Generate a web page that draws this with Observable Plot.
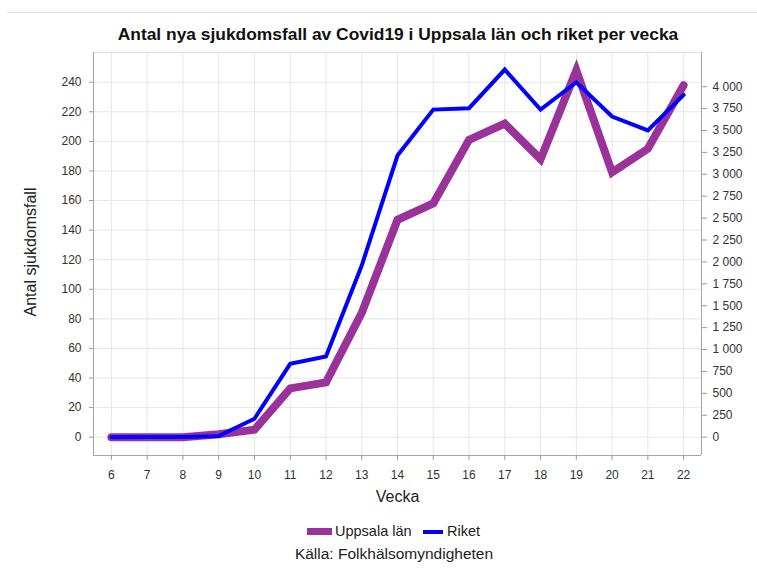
<!DOCTYPE html>
<html>
<head>
<meta charset="utf-8">
<script src="https://cdn.jsdelivr.net/npm/d3@7"></script>
<script src="https://cdn.jsdelivr.net/npm/@observablehq/plot@0.6"></script>
<style>
  html, body { margin: 0; padding: 0; background: #fff; }
  #wrap { position: relative; width: 757px; height: 572px; font-family: "Liberation Sans", Arial, sans-serif; color: #222; overflow: hidden; }
  #topline { position: absolute; left: 7px; right: 0; top: 12px; height: 1px; background: #e2e2e2; }
  #title { position: absolute; left: 0; width: 796px; top: 24px; text-align: center; font-weight: bold; font-size: 17.4px; line-height: 20px; color: #111; }
  #chart { position: absolute; left: 0; top: 0; }
  #legend { position: absolute; left: 0; width: 757px; top: 522px; height: 18px; font-size: 14.5px; line-height: 18px; }
  .sw { position: absolute; }
  .lt { position: absolute; top: 0; }
  #caption { position: absolute; left: 0; width: 788px; top: 545px; text-align: center; font-size: 15.5px; line-height: 18px; }
</style>
</head>
<body>
<div id="wrap">
  <div id="topline"></div>
  <div id="title">Antal nya sjukdomsfall av Covid19 i Uppsala län och riket per vecka</div>
  <div id="chart"></div>
  <div id="legend">
    <div class="sw" style="left:307px; top:6px; width:25px; height:7px; background:#993399;"></div>
    <div class="lt" style="left:335px;">Uppsala län</div>
    <div class="sw" style="left:423px; top:8px; width:20px; height:4px; background:#0000ff;"></div>
    <div class="lt" style="left:447px;">Riket</div>
  </div>
  <div id="caption">Källa: Folkhälsomyndigheten</div>
</div>
<script>
// Data
const weeks   = [6, 7, 8, 9, 10, 11, 12, 13, 14, 15, 16, 17, 18, 19, 20, 21, 22];
const uppsala = [0, 0, 0, 2, 5, 33, 37, 84, 147, 158, 201, 212, 188, 248, 179, 195, 238];
const riket   = [0, 1, 1, 13, 210, 837, 920, 1959, 3214, 3738, 3754, 4195, 3738, 4050, 3659, 3500, 3906];
const leftTicks  = [0, 20, 40, 60, 80, 100, 120, 140, 160, 180, 200, 220, 240];
const rightTicks = [0, 250, 500, 750, 1000, 1250, 1500, 1750, 2000, 2250, 2500, 2750, 3000, 3250, 3500, 3750, 4000];

const k = 237 / 4000; // right-axis value -> left-axis units
const yDomain = [-12.4, 260.1];
const xDomain = [5.5, 22.5];

const sv = d3.formatLocale({decimal: ",", thousands: " ", grouping: [3], currency: ["", " kr"]});
const fmt = sv.format(",d");

const dataU = weeks.map((w, i) => ({week: w, value: uppsala[i]}));
const dataR = weeks.map((w, i) => ({week: w, value: riket[i] * k}));

const plot = Plot.plot({
  width: 757,
  height: 572,
  marginTop: 52,
  marginBottom: 117,
  marginLeft: 93,
  marginRight: 56,
  style: {fontFamily: '"Liberation Sans", Arial, sans-serif', fontSize: "12px", background: "transparent", color: "#333"},
  x: {domain: xDomain, label: null},
  y: {domain: yDomain, label: null},
  marks: [
    Plot.ruleX(weeks, {stroke: "#e6e6e6", strokeWidth: 1}),
    Plot.ruleY(leftTicks, {stroke: "#e6e6e6", strokeWidth: 1}),
    Plot.ruleY([yDomain[1]], {stroke: "#dcdcdc"}),
    Plot.ruleY([yDomain[0]], {stroke: "#a6a6a6"}),
    Plot.ruleX([xDomain[0]], {stroke: "#a6a6a6"}),
    Plot.ruleX([xDomain[1]], {stroke: "#a6a6a6"}),
    Plot.axisX(weeks, {anchor: "bottom", tickSize: 5, tickPadding: 10, stroke: "#999", fill: "#333", tickFormat: d => String(d), label: null}),
    Plot.axisY(leftTicks, {anchor: "left", tickSize: 4, tickPadding: 8, stroke: "#999", fill: "#333", label: null}),
    Plot.axisY(rightTicks.map(t => t * k), {anchor: "right", tickSize: 5, tickPadding: 6, stroke: "#999", fill: "#333", tickFormat: d => fmt(Math.round(d / k)), label: null}),
    Plot.text(["Antal sjukdomsfall"], {frameAnchor: "left", textAnchor: "middle", rotate: -90, dx: -63, dy: -2, fontSize: 16, fill: "#222"}),
    Plot.text(["Vecka"], {frameAnchor: "bottom", dy: 46, fontSize: 16, fill: "#222"}),
    Plot.line(dataU, {x: "week", y: "value", stroke: "#993399", strokeWidth: 8, strokeLinejoin: "miter", strokeMiterlimit: 10}),
    Plot.line(dataR, {x: "week", y: "value", stroke: "#0000ff", strokeWidth: 4, strokeLinejoin: "miter", strokeMiterlimit: 10})
  ]
});
document.getElementById("chart").appendChild(plot);
</script>
</body>
</html>
